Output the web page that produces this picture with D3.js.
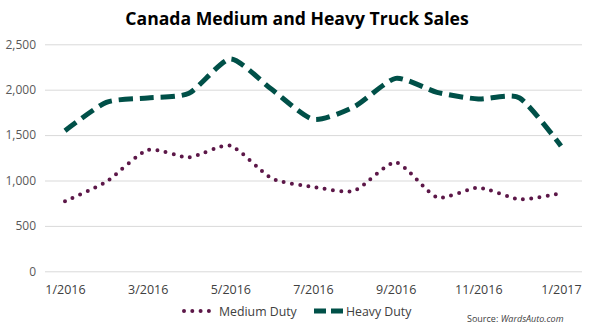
<!DOCTYPE html>
<html>
<head>
<meta charset="utf-8">
<script src="https://cdn.jsdelivr.net/npm/d3@7"></script>
<style>
  body { margin: 0; background: #fff; }
  text { font-family: "Open Sans", "Noto Sans", sans-serif; }
</style>
</head>
<body>
<svg id="chart"></svg>
<script>
var width = 595;
var height = 335;

var months = ["1/2016","2/2016","3/2016","4/2016","5/2016","6/2016","7/2016","8/2016","9/2016","10/2016","11/2016","12/2016","1/2017"];
var mediumDuty = [771, 987, 1336, 1255, 1383, 1024, 930, 888, 1200, 815, 921, 793, 859];
var heavyDuty = [1548, 1861, 1909, 1960, 2338, 2004, 1674, 1813, 2125, 1971, 1897, 1909, 1380];
var yTicks = [0, 500, 1000, 1500, 2000, 2500];
var xTickLabels = ["1/2016","3/2016","5/2016","7/2016","9/2016","11/2016","1/2017"];

var mediumColor = "#5c1748";
var heavyColor = "#005048";

var svg = d3.select("#chart")
    .attr("width", width)
    .attr("height", height);

var xScale = d3.scalePoint()
  .domain(months)
  .range([65, 561]);

var yScale = d3.scaleLinear()
  .domain([0, 2500])
  .range([271.3, 44.3]);

// title
svg.append("text")
    .attr("x", 297)
    .attr("y", 25)
    .attr("text-anchor", "middle")
    .attr("font-size", 17.6)
    .attr("font-weight", "bold")
    .attr("fill", "#000")
    .text("Canada Medium and Heavy Truck Sales");

// gridlines + y labels
var yAxis = d3.axisLeft(yScale)
  .tickValues(yTicks)
  .tickSize(-(582 - 45))
  .tickPadding(9)
  .tickFormat(d3.format(","));

svg.append("g")
    .attr("transform", "translate(45,0)")
    .call(yAxis)
    .call(g => g.select(".domain").remove())
    .call(g => g.selectAll("line").attr("stroke", "#d9d9d9").attr("stroke-width", 1))
    .call(g => g.selectAll("text").attr("fill", "#595959").attr("font-size", 12).attr("font-family", "Open Sans"));

// x labels
var xAxis = d3.axisBottom(xScale)
  .tickValues(xTickLabels)
  .tickSize(0)
  .tickPadding(14);

svg.append("g")
    .attr("transform", "translate(0,271.3)")
    .call(xAxis)
    .call(g => g.select(".domain").remove())
    .call(g => g.selectAll("text").attr("fill", "#404040").attr("font-size", 12.5).attr("font-family", "Open Sans"));

var line = d3.line()
  .x((d, i) => xScale(months[i]))
  .y(d => yScale(d))
  .curve(d3.curveCardinal.tension(0.35));

svg.append("path")
    .datum(heavyDuty)
    .attr("d", line)
    .attr("fill", "none")
    .attr("stroke", heavyColor)
    .attr("stroke-width", 5)
    .attr("stroke-dasharray", "14,7");

svg.append("path")
    .datum(mediumDuty)
    .attr("d", line)
    .attr("fill", "none")
    .attr("stroke", mediumColor)
    .attr("stroke-width", 4)
    .attr("stroke-linecap", "round")
    .attr("stroke-dasharray", "0,8.3");

// legend
var legend = svg.append("g");
legend.append("line")
    .attr("x1", 184).attr("x2", 216)
    .attr("y1", 311).attr("y2", 311)
    .attr("stroke", mediumColor)
    .attr("stroke-width", 4)
    .attr("stroke-linecap", "round")
    .attr("stroke-dasharray", "0,8.3");
legend.append("text")
    .attr("x", 219).attr("y", 315.5)
    .attr("font-size", 12.3)
    .attr("fill", "#404040")
    .text("Medium Duty");
legend.append("line")
    .attr("x1", 314).attr("x2", 343)
    .attr("y1", 311).attr("y2", 311)
    .attr("stroke", heavyColor)
    .attr("stroke-width", 5)
    .attr("stroke-dasharray", "12,5");
legend.append("text")
    .attr("x", 346).attr("y", 315.5)
    .attr("font-size", 12.3)
    .attr("fill", "#404040")
    .text("Heavy Duty");

var source = svg.append("text")
    .attr("x", 467).attr("y", 322)
    .attr("font-size", 9)
    .attr("fill", "#404040");
source.append("tspan").text("Source: ");
source.append("tspan").attr("font-style", "italic").text("WardsAuto.com");
</script>
</body>
</html>
